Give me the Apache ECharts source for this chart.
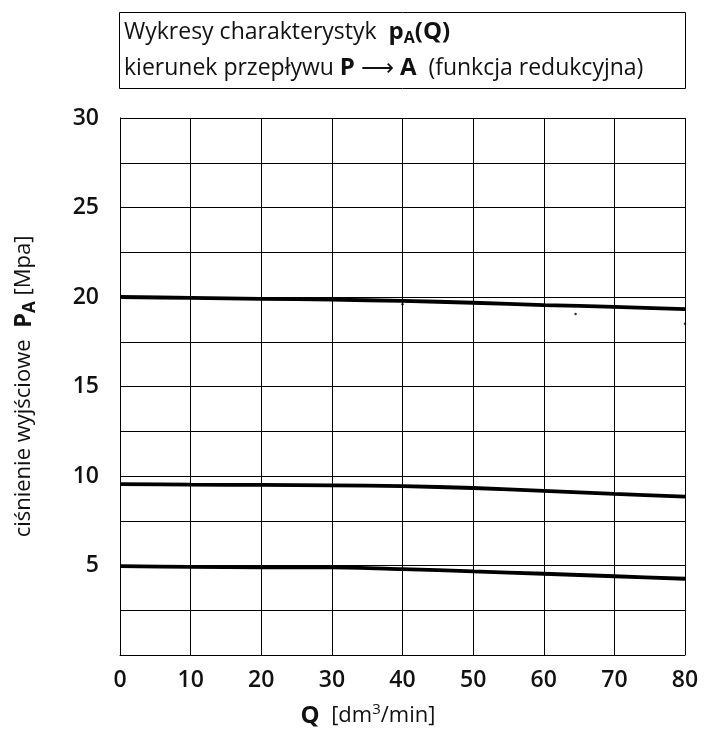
<!DOCTYPE html>
<html>
<head>
<meta charset="utf-8">
<script src="https://cdn.jsdelivr.net/npm/echarts@6/dist/echarts.min.js"></script>
<style>
  html, body { margin: 0; padding: 0; background: #fff; }
  #chart { width: 706px; height: 731px; }
</style>
</head>
<body>
<div id="chart"></div>
<script>
// Q [dm3/min]
const qValues = [0, 10, 20, 30, 40, 50, 60, 70, 80]
// p_A curves for three settings [MPa]
const curve20 = [20.0, 19.95, 19.9, 19.85, 19.78, 19.68, 19.55, 19.45, 19.32]
const curve10 = [9.55, 9.52, 9.5, 9.48, 9.43, 9.33, 9.17, 9.0, 8.85]
const curve5 = [4.97, 4.92, 4.9, 4.9, 4.8, 4.67, 4.54, 4.4, 4.26]
// small stray dots visible on the scan
const strayDots = [[40, 19.6], [64.5, 19.05], [80, 18.5]]

const FONT = 'Open Sans'

const toPairs = (ys) => qValues.map((q, i) => [q, ys[i]])
const lineSeries = (ys) => ({
  type: 'line',
  smooth: 0.3,
  symbol: 'none',
  lineStyle: { color: '#000', width: 3.8 },
  data: toPairs(ys)
})

const chart = echarts.init(document.getElementById('chart'))
chart.setOption({
  animation: false,
  backgroundColor: '#fff',
  grid: { left: 120, right: 21, top: 118, bottom: 76, containLabel: false },
  xAxis: {
    type: 'value',
    min: 0,
    max: 80,
    interval: 10,
    axisLine: { lineStyle: { color: '#000', width: 1 } },
    axisTick: { show: false },
    splitLine: { show: true, lineStyle: { color: '#000', width: 1 } },
    axisLabel: {
      color: '#111', fontFamily: FONT, fontSize: 23, fontWeight: 600, margin: 14
    }
  },
  yAxis: {
    type: 'value',
    min: 0,
    max: 30,
    interval: 2.5,
    axisLine: { show: true, lineStyle: { color: '#000', width: 1 } },
    axisTick: { show: false },
    splitLine: { show: true, lineStyle: { color: '#000', width: 1 } },
    axisLabel: {
      color: '#111', fontFamily: FONT, fontSize: 23, fontWeight: 600, margin: 21,
      formatter: (v) => (v % 5 === 0 && v !== 0 ? String(v) : '')
    },
    name: '{t|ciśnienie wyjściowe  }{b|P}{s|A}{t| [Mpa]}',
    nameLocation: 'middle',
    nameRotate: 90,
    nameGap: 80,
    nameTextStyle: {
      rich: {
        t: { fontFamily: FONT, fontSize: 22, color: '#111', lineHeight: 32 },
        b: { fontFamily: FONT, fontSize: 24, fontWeight: 'bold', color: '#111', lineHeight: 32 },
        s: { fontFamily: FONT, fontSize: 17, fontWeight: 'bold', color: '#111', lineHeight: 32, padding: [13, 0, 0, 0] }
      }
    }
  },
  series: [
    lineSeries(curve20),
    lineSeries(curve10),
    lineSeries(curve5),
    {
      type: 'scatter',
      symbolSize: 2.5,
      itemStyle: { color: '#000' },
      data: strayDots
    }
  ],
  graphic: [
    {
      type: 'rect',
      shape: { x: 119.5, y: 12.5, width: 566, height: 76 },
      style: { fill: '#fff', stroke: '#000', lineWidth: 1 }
    },
    {
      type: 'text',
      x: 124,
      y: 32,
      style: {
        text: '{t|Wykresy charakterystyk  }{b|p}{s|A}{b|(Q)}',
        verticalAlign: 'middle',
        rich: {
          t: { fontFamily: FONT, fontSize: 23, fill: '#111', lineHeight: 32 },
          b: { fontFamily: FONT, fontSize: 24, fontWeight: 'bold', fill: '#111', lineHeight: 32 },
          s: { fontFamily: FONT, fontSize: 16, fontWeight: 'bold', fill: '#111', lineHeight: 32, padding: [13, 0, 0, 0] }
        }
      }
    },
    {
      type: 'text',
      x: 124,
      y: 68,
      style: {
        text: '{t|kierunek przepływu }{b|P}{t| \u27F6 }{b|A}{t|  (funkcja redukcyjna)}',
        verticalAlign: 'middle',
        rich: {
          t: { fontFamily: FONT, fontSize: 23, fill: '#111', lineHeight: 32 },
          b: { fontFamily: FONT, fontSize: 24, fontWeight: 'bold', fill: '#111', lineHeight: 32 }
        }
      }
    },
    {
      type: 'text',
      x: 368,
      y: 716,
      style: {
        text: '{b|Q}{t|  [dm}{p|3}{t|/min]}',
        align: 'center',
        verticalAlign: 'middle',
        rich: {
          t: { fontFamily: FONT, fontSize: 22, fill: '#111', lineHeight: 32 },
          b: { fontFamily: FONT, fontSize: 24, fontWeight: 'bold', fill: '#111', lineHeight: 32 },
          p: { fontFamily: FONT, fontSize: 15, fill: '#111', lineHeight: 32, padding: [0, 0, 13, 0] }
        }
      }
    }
  ]
})
</script>
</body>
</html>
